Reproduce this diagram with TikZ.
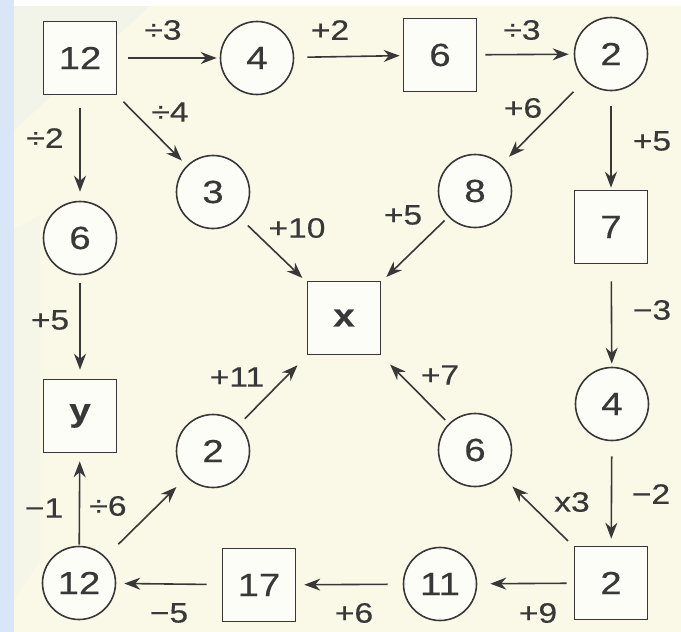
\documentclass[tikz,border=0pt]{standalone}
\usepackage{fontspec}
\setmainfont{Liberation Sans}[FakeStretch=1.2,FakeBold=0.4]
\usetikzlibrary{arrows.meta}
\definecolor{ink}{HTML}{383838}
\definecolor{cream}{HTML}{FAF8E6}
\definecolor{boxfill}{HTML}{FDFDF8}
\definecolor{wmblue}{HTML}{D9E6F8}
\begin{document}
\begin{tikzpicture}[x=1pt,y=-1pt,
  box/.style={draw=ink, line width=1.6pt, fill=boxfill, minimum size=73pt, inner sep=0pt, text=ink, font=\fontsize{32}{32}\selectfont},
  circ/.style={draw=ink, line width=1.6pt, fill=boxfill, circle, minimum size=73pt, inner sep=0pt, text=ink, font=\fontsize{32}{32}\selectfont},
  arr/.style={draw=ink, line width=1.6pt, -{Stealth[length=16pt,width=12pt]}},
  lab/.style={font=\fontsize{28}{28}\selectfont, text=ink, inner sep=0pt}
]
\useasboundingbox (0,0) rectangle (681,632);
% background
\fill[cream] (0,0) rectangle (681,632);
\fill[white] (0,0) rectangle (681,6);
\fill[wmblue] (0,0) rectangle (14,632);
\fill[wmblue, opacity=0.2] (14,6) -- (150,6) -- (14,130) -- cycle;
\fill[wmblue, opacity=0.15] (14,230) -- (40,215) -- (40,560) -- (14,600) -- cycle;

% nodes
\node[box]  (s12)  at (80,58)   {12};
\node[circ] (c4)   at (257,58)  {4};
\node[box]  (s6)   at (440,55)  {6};
\node[circ] (c2)   at (611,54)  {2};
\node[circ] (c3)   at (213,192) {3};
\node[circ] (c6)   at (80,238)  {6};
\node[circ] (c8)   at (475,191) {8};
\node[box]  (s7)   at (611,227) {7};
\node[box]  (x)    at (344,318) {\textbf{x}};
\node[box]  (y)    at (80,416)  {\textbf{y}};
\node[circ] (c2m)  at (213,451) {2};
\node[circ] (c6m)  at (475,450) {6};
\node[circ] (c4r)  at (612,404) {4};
\node[box]  (s2)   at (611,583) {2};
\node[circ] (c11)  at (440,584) {11};
\node[box]  (s17)  at (259,585) {17};
\node[circ] (c12)  at (79,583)  {12};

% arrows
\draw[arr, shorten <=11pt, shorten >=3pt] (s12) -- (c4);
\draw[arr, shorten <=13pt, shorten >=3pt] (c4) -- (s6);
\draw[arr, shorten <=8pt, shorten >=5pt] (s6) -- (c2);
\draw[arr, shorten <=9pt, shorten >=7pt] (s12) -- (c3);
\draw[arr, shorten <=13pt, shorten >=9pt] (s12) -- (c6);
\draw[arr, shorten <=11pt, shorten >=6pt] (c3) -- (x);
\draw[arr, shorten <=16pt, shorten >=11pt] (c2) -- (c8);
\draw[arr, shorten <=15pt, shorten >=2pt] (c2) -- (s7);
\draw[arr, shorten <=5pt, shorten >=7pt] (c8) -- (x);
\draw[arr, shorten <=17pt, shorten >=3pt] (s7) -- (c4r);
\draw[arr, shorten <=8pt, shorten >=9pt] (c6) -- (y);
\draw[arr, shorten <=1pt, shorten >=8pt] (c12) -- (y);
\draw[arr, shorten <=18pt, shorten >=14pt] (c12) -- (c2m);
\draw[arr, shorten <=8pt, shorten >=14pt] (c2m) -- (x);
\draw[arr, shorten <=5pt, shorten >=13pt] (c6m) -- (x);
\draw[arr, shorten <=15pt, shorten >=7pt] (c4r) -- (s2);
\draw[arr, shorten <=8pt, shorten >=15pt] (s2) -- (c6m);
\draw[arr, shorten <=7pt, shorten >=13pt] (s2) -- (c11);
\draw[arr, shorten <=15pt, shorten >=8pt] (c11) -- (s17);
\draw[arr, shorten <=15pt, shorten >=8pt] (s17) -- (c12);

% labels
\node[lab] (l1)  at (163,30)  {÷3};
\node[lab] (l2)  at (330,30)  {+2};
\node[lab] (l3)  at (522,30)  {÷3};
\node[lab] (l4)  at (170,112) {÷4};
\node[lab] (l5)  at (45,138)  {÷2};
\node[lab] (l6)  at (297,228) {+10};
\node[lab] (l7)  at (523,108) {+6};
\node[lab] (l8)  at (652,141) {+5};
\node[lab] (l9)  at (403,215) {+5};
\node[lab] (l10) at (652,310) {−3};
\node[lab] (l11) at (50,320)  {+5};
\node[lab] (l12) at (44,508)  {−1};
\node[lab] (l13) at (108,506) {÷6};
\node[lab] (l14) at (237,377) {+11};
\node[lab] (l15) at (440,375) {+7};
\node[lab] (l16) at (572,502) {x3};
\node[lab] (l17) at (651,494) {−2};
\node[lab] (l18) at (538,613) {+9};
\node[lab] (l19) at (354,613) {+6};
\node[lab] (l20) at (169,613) {−5};
\end{tikzpicture}
\end{document}
